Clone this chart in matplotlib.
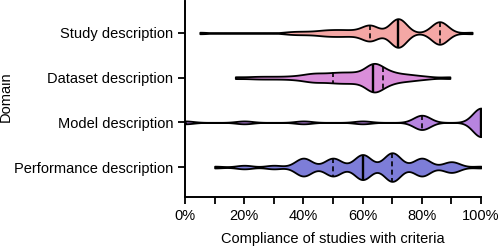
import numpy as np
import matplotlib
matplotlib.use("Agg")
import matplotlib.pyplot as plt
from matplotlib import cbook

plt.rcParams['font.family'] = ['Liberation Sans', 'DejaVu Sans']

domains = ["Study description", "Dataset description", "Model description", "Performance description"]
colors = ["#F4A7A5", "#DA8EDA", "#B784E0", "#7D7DD8"]

# compliance values (%) and number of studies at each value
study_vals = [5, 35, 38, 41, 44, 47, 50, 53, 56, 59, 62.5, 72, 86, 97]
study_cnts = [1, 1, 1, 1, 1, 2, 2, 2, 2, 1, 10, 19, 15, 1]
dataset_vals = [17, 23, 27, 31, 35, 38, 41, 44, 47, 50, 53, 56, 59, 63.5, 67, 70, 73, 76, 79, 82, 89.5]
dataset_cnts = [1, 1, 1, 1, 1, 1, 2, 3, 2, 3, 3, 3, 3, 14, 5, 3, 2, 2, 1, 1, 1]
model_vals = [0, 20, 40, 60, 80, 100]
model_cnts = [1, 1, 1, 1, 5, 10]
perf_vals = [10, 20, 30, 40, 50, 60, 70, 80, 90, 100]
perf_cnts = [1, 2, 2, 10, 10, 14, 16, 10, 6, 1]

xticks = [0, 20, 40, 60, 80, 100]
xticklabels = ["0%", "20%", "40%", "60%", "80%", "100%"]

datasets = [np.repeat(study_vals, study_cnts),
            np.repeat(dataset_vals, dataset_cnts),
            np.repeat(model_vals, model_cnts),
            np.repeat(perf_vals, perf_cnts)]

BW = 2.8


def kde(x, coords):
    x = np.asarray(x, float)
    d = (coords[:, None] - x[None, :]) / BW
    return np.exp(-0.5 * d ** 2).sum(axis=1)


stats = cbook.violin_stats(datasets, kde, points=500)

fig = plt.figure(figsize=(5, 2.5), dpi=100)
ax = fig.add_axes([0.37, 0.212, 0.592, 0.783])
positions = list(range(len(domains)))
width = 0.64
parts = ax.violin(stats, positions=positions, vert=False, widths=width,
                  showmeans=False, showextrema=False, showmedians=False)
for body, c in zip(parts['bodies'], colors):
    body.set_facecolor(c)
    body.set_edgecolor('black')
    body.set_linewidth(1.3)
    body.set_alpha(1)

for pos, st, data in zip(positions, stats, datasets):
    coords, vals = st['coords'], st['vals']
    scale = 0.5 * width / vals.max()
    q1, med, q3 = np.percentile(data, [25, 50, 75])
    for q, ls, lw in [(q1, (0, (3, 2)), 1.2), (med, '-', 1.7), (q3, (0, (3, 2)), 1.2)]:
        h = np.interp(q, coords, vals) * scale
        ax.plot([q, q], [pos - h, pos + h], color='black', ls=ls, lw=lw,
                solid_capstyle='butt')

ax.set_xlim(0, 100)
ax.set_ylim(3.67, -0.71)
ax.set_yticks(positions)
ax.set_yticklabels(domains, fontsize=10.5)
ax.set_xticks(xticks)
ax.set_xticklabels(xticklabels, fontsize=10.5)
ax.set_xticks(np.arange(10, 100, 20), minor=True)
ax.tick_params(axis='both', which='both', direction='out', length=5, width=1.3, color='black')
ax.tick_params(axis='x', pad=4)
ax.spines['top'].set_visible(False)
ax.spines['right'].set_visible(False)
ax.spines['left'].set_linewidth(1.4)
ax.spines['bottom'].set_linewidth(1.4)
ax.set_xlabel("Compliance of studies with criteria", fontsize=10.5, labelpad=6)
ax.set_ylabel("Domain", fontsize=10.5)
ax.yaxis.set_label_coords(-0.582, 0.513)

fig.savefig("out.png", dpi=100)
